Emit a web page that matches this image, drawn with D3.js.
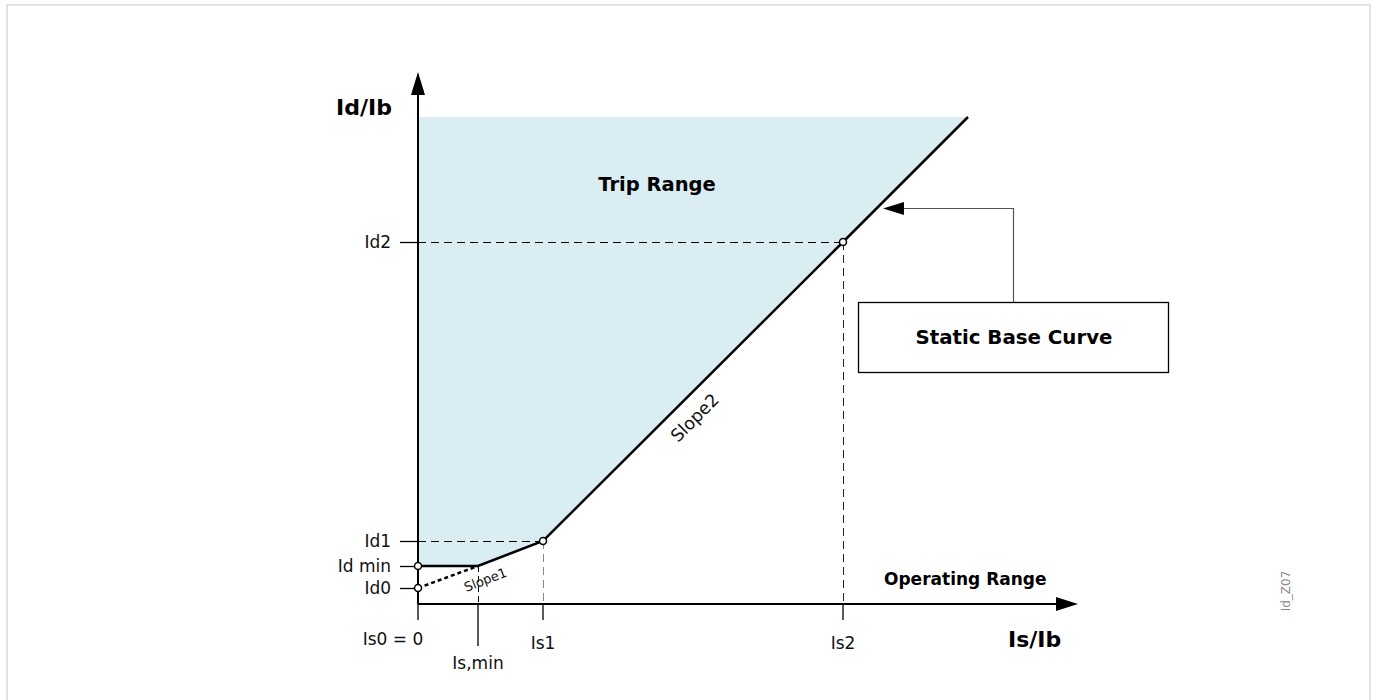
<!DOCTYPE html>
<html><head><meta charset="utf-8">
<script src="https://cdn.jsdelivr.net/npm/d3@7"></script>
<style>html,body{margin:0;padding:0;background:#fff;} svg{display:block;font-family:"DejaVu Sans",sans-serif;}</style>
</head><body>
<script>
// ---- data ----
const xTickValues = [0, 0.6, 1.25, 4.25];
const xTickLabels = ["Is0 = 0", "Is,min", "Is1", "Is2"];
const yTickValues = [0.16, 0.38, 0.63, 3.62];
const yTickLabels = ["Id0", "Id min", "Id1", "Id2"];
const curveIs = [0, 0.6, 1.25, 4.25, 5.5];
const curveId = [0.38, 0.38, 0.63, 3.62, 4.87];
const slope1Is = [0, 0.6];
const slope1Id = [0.16, 0.38];
const markerIs = [0, 0, 1.25, 4.25];
const markerId = [0.38, 0.16, 0.63, 3.62];
const tripTop = 4.87;
const xMax = 6.6, yMax = 5.32;

const W = 1375, H = 700;
const svg = d3.select("body").append("svg").attr("width", W).attr("height", H);
const x = d3.scaleLinear().domain([0, xMax]).range([418, 1078]);
const y = d3.scaleLinear().domain([0, yMax]).range([604, 72]);

// border
svg.append("rect").attr("x", 7).attr("y", 5).attr("width", 1363).attr("height", 730)
  .attr("fill", "none").attr("stroke", "#e2e2e2").attr("stroke-width", 2);

// shaded trip region
const curvePts = curveIs.map((v, i) => [x(v), y(curveId[i])]);
const poly = [[x(0), y(tripTop)], ...curvePts.slice().reverse()];
svg.append("path").attr("d", d3.line()(poly) + "Z").attr("fill", "#daedf3");

// dashed guide lines
const dash = "8,5";
const g = svg.append("g").attr("shape-rendering", "crispEdges");
g.append("line").attr("x1", x(0)).attr("x2", x(1.25)).attr("y1", y(0.63)).attr("y2", y(0.63))
  .attr("stroke", "#000").attr("stroke-dasharray", dash);
g.append("line").attr("x1", x(0)).attr("x2", x(4.25)).attr("y1", y(3.62)).attr("y2", y(3.62))
  .attr("stroke", "#000").attr("stroke-dasharray", dash);
g.append("line").attr("x1", x(1.25)).attr("x2", x(1.25)).attr("y1", y(0.63)).attr("y2", y(0))
  .attr("stroke", "#888").attr("stroke-dasharray", dash);
g.append("line").attr("x1", x(4.25)).attr("x2", x(4.25)).attr("y1", y(3.62)).attr("y2", y(0))
  .attr("stroke", "#222").attr("stroke-dasharray", dash);
g.append("line").attr("x1", x(0.6)).attr("x2", x(0.6)).attr("y1", y(0.38)).attr("y2", y(0))
  .attr("stroke", "#000").attr("stroke-dasharray", "6,4");

// slope1 dotted extension
svg.append("path").attr("d", d3.line()(slope1Is.map((v, i) => [x(v), y(slope1Id[i])])))
  .attr("fill", "none").attr("stroke", "#000").attr("stroke-width", 2.5).attr("stroke-dasharray", "4,3");

// curve
svg.append("path").attr("d", d3.line()(curvePts)).attr("fill", "none")
  .attr("stroke", "#000").attr("stroke-width", 2.5);

// axes
const yAxis = d3.axisLeft(y).tickValues(yTickValues).tickFormat((d, i) => yTickLabels[i])
  .tickSize(18).tickPadding(9);
const gy = svg.append("g").attr("transform", `translate(${x(0)},0)`).call(yAxis);
gy.select(".domain").remove();
gy.selectAll("line").attr("stroke", "#000").attr("stroke-width", 1.3);
gy.selectAll("text").attr("font-size", 17).attr("font-family", "DejaVu Sans").attr("fill", "#111");

svg.append("line").attr("x1", x(0)).attr("x2", x(0)).attr("y1", y(0)).attr("y2", y(yMax) + 20)
  .attr("stroke", "#000").attr("stroke-width", 2);
svg.append("path").attr("d", `M${x(0)},${y(yMax)} L${x(0) - 7},${y(yMax) + 23} L${x(0) + 7},${y(yMax) + 23}Z`).attr("fill", "#000");
svg.append("line").attr("x1", x(0)).attr("x2", x(xMax) - 20).attr("y1", y(0)).attr("y2", y(0))
  .attr("stroke", "#000").attr("stroke-width", 2);
svg.append("path").attr("d", `M${x(xMax)},${y(0)} L${x(xMax) - 22},${y(0) - 7} L${x(xMax) - 22},${y(0) + 7}Z`).attr("fill", "#000");

// x ticks
const xTickLen = [16, 42, 16, 16];
const xLabelDx = [-25, 0, 0, 0];
const xLabelY = [645, 669, 649, 649];
xTickValues.forEach((v, i) => {
  svg.append("line").attr("x1", x(v)).attr("x2", x(v)).attr("y1", y(0)).attr("y2", y(0) + xTickLen[i])
    .attr("stroke", "#000").attr("stroke-width", 1.3);
  svg.append("text").attr("x", x(v) + xLabelDx[i]).attr("y", xLabelY[i]).attr("text-anchor", "middle")
    .attr("font-size", 17).attr("fill", "#111").text(xTickLabels[i]);
});

// markers
markerIs.forEach((v, i) => {
  svg.append("circle").attr("cx", x(v)).attr("cy", y(markerId[i])).attr("r", 3.5)
    .attr("fill", "#fff").attr("stroke", "#000").attr("stroke-width", 1.5);
});

// axis titles
svg.append("text").attr("x", 392).attr("y", 115).attr("text-anchor", "end")
  .attr("font-size", 22).attr("font-weight", "bold").text("Id/Ib");
svg.append("text").attr("x", 1008).attr("y", 647)
  .attr("font-size", 22).attr("font-weight", "bold").text("Is/Ib");

// region labels
svg.append("text").attr("x", 657).attr("y", 191).attr("text-anchor", "middle")
  .attr("font-size", 19.5).attr("font-weight", "bold").text("Trip Range");
svg.append("text").attr("x", 884).attr("y", 585)
  .attr("font-size", 17).attr("font-weight", "bold").text("Operating Range");

// slope labels
svg.append("text").attr("transform", "translate(699,422) rotate(-45)").attr("text-anchor", "middle")
  .attr("font-size", 17.5).attr("fill", "#111").text("Slope2");
svg.append("text").attr("transform", "translate(487,584) rotate(-21)").attr("text-anchor", "middle")
  .attr("font-size", 13).attr("fill", "#111").text("Slope1");

// static base curve callout
svg.append("rect").attr("x", 858.5).attr("y", 302.5).attr("width", 310).attr("height", 70)
  .attr("fill", "#fff").attr("stroke", "#000").attr("stroke-width", 1.3);
svg.append("text").attr("x", 1014).attr("y", 344).attr("text-anchor", "middle")
  .attr("font-size", 19.8).attr("font-weight", "bold").text("Static Base Curve");
svg.append("path").attr("d", "M1013.5,302 L1013.5,208.5 L900,208.5").attr("fill", "none")
  .attr("stroke", "#555").attr("stroke-width", 1.2);
svg.append("path").attr("d", "M883,208.5 L904,202 L904,215Z").attr("fill", "#000");

// id label
svg.append("text").attr("transform", "translate(1290,591) rotate(-90)").attr("text-anchor", "middle")
  .attr("font-size", 12).attr("fill", "#888").text("Id_Z07");
</script>
</body></html>
